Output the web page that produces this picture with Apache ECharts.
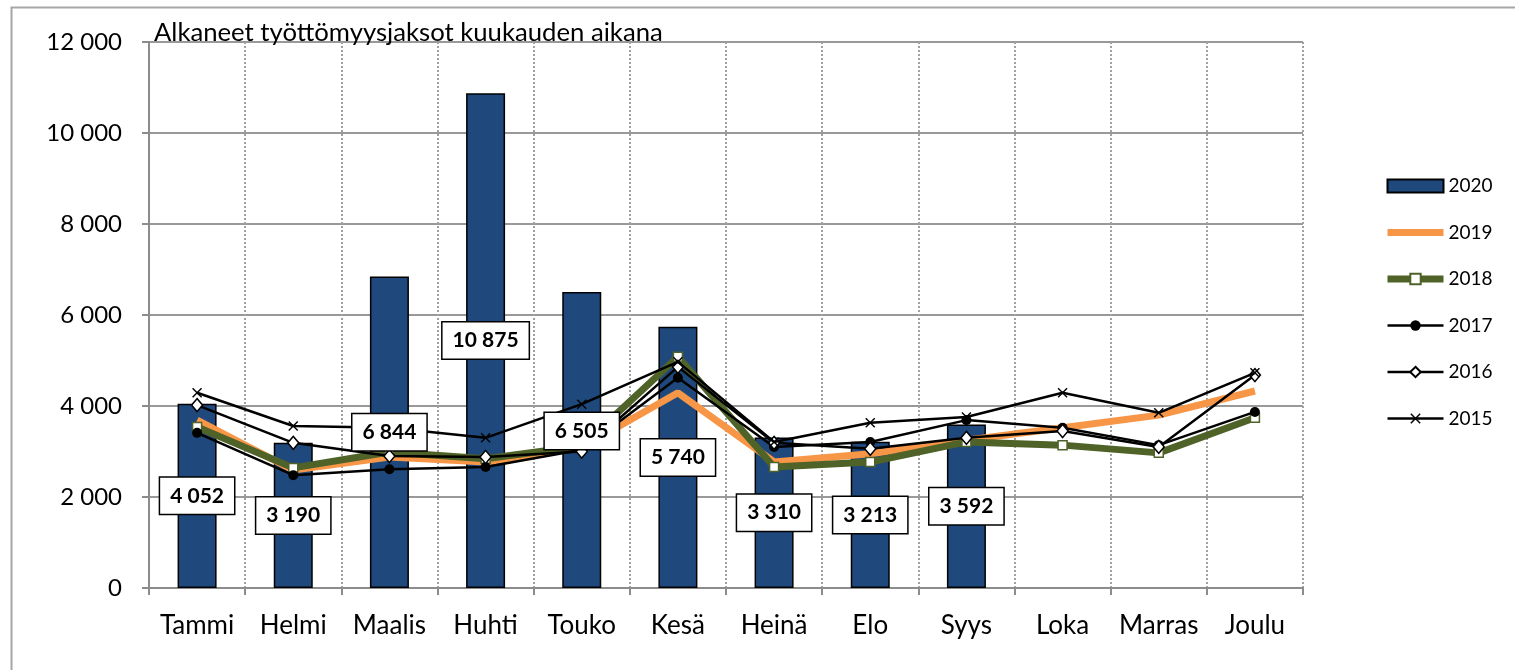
<!DOCTYPE html>
<html>
<head>
<meta charset="utf-8">
<script src="https://cdn.jsdelivr.net/npm/echarts@6/dist/echarts.min.js"></script>
<style>
html,body{margin:0;padding:0;background:#fff;}
#chart{width:1515px;height:670px;}
</style>
</head>
<body>
<div id="chart"></div>
<script>
// ---- data ----
const months = ['Tammi','Helmi','Maalis','Huhti','Touko','Kesä','Heinä','Elo','Syys','Loka','Marras','Joulu'];
const y2020 = [4052, 3190, 6844, 10875, 6505, 5740, 3310, 3213, 3592, null, null, null];
const y2019 = [3690, 2590, 2880, 2770, 3090, 4290, 2770, 2950, 3250, 3520, 3800, 4330];
const y2018 = [3540, 2640, 2990, 2840, 3120, 5080, 2660, 2770, 3210, 3140, 2970, 3740];
const y2017 = [3410, 2480, 2610, 2660, 3040, 4620, 3100, 3210, 3690, 3520, 3140, 3870];
const y2016 = [4020, 3190, 2900, 2880, 3000, 4860, 3190, 3060, 3300, 3450, 3100, 4680];
const y2015 = [4290, 3560, 3520, 3300, 4040, 4970, 3210, 3630, 3760, 4290, 3850, 4730];
const yTicks = [0, 2000, 4000, 6000, 8000, 10000, 12000];
const titleText = 'Alkaneet työttömyysjaksot kuukauden aikana';

// ---- presentation ----
const FONT = 'Lato, "Open Sans", sans-serif';
const fmt = v => String(v).replace(/\B(?=(\d{3})+(?!\d))/g, ' ');
const crossPath = 'path://M0,1 L1,0 L5,4 L9,0 L10,1 L6,5 L10,9 L9,10 L5,6 L1,10 L0,9 L4,5 Z';
const labelShift = {4: [0, -9]};

const labelData = y2020.map((v, i) => labelShift[i] ? {value: v, label: {offset: labelShift[i]}} : v);

const chart = echarts.init(document.getElementById('chart'), null, {renderer: 'canvas'});
chart.setOption({
  animation: false,
  backgroundColor: '#ffffff',
  textStyle: {fontFamily: FONT},
  graphic: [{
    type: 'rect', left: 9, top: 5, silent: true,
    shape: {x: 0, y: 0, width: 2000, height: 900},
    style: {fill: 'none', stroke: '#a6a6a6', lineWidth: 2}
  }],
  title: {
    text: titleText, left: 149, top: 15,
    textStyle: {fontFamily: FONT, fontSize: 25.7, fontWeight: 'normal', color: '#000'}
  },
  grid: {left: 149, right: 212, top: 42, bottom: 82, containLabel: false},
  legend: {
    orient: 'vertical', left: 1379, top: 171,
    itemWidth: 56, itemHeight: 13, itemGap: 26.5,
    textStyle: {fontFamily: FONT, fontSize: 19, color: '#000', lineHeight: 20},
    data: [
      {name: '2020', icon: 'rect'},
      {name: '2019', lineStyle: {width: 7}, itemStyle: {color: 'rgba(0,0,0,0)', borderWidth: 0}},
      {name: '2018', lineStyle: {width: 7}},
      {name: '2017', lineStyle: {width: 2.5}},
      {name: '2016', lineStyle: {width: 2.5}},
      {name: '2015', lineStyle: {width: 2.5}}
    ]
  },
  xAxis: {
    type: 'category', data: months,
    axisLine: {lineStyle: {color: '#8c8c8c', width: 2}},
    axisTick: {show: true, interval: 0, length: 7, lineStyle: {color: '#8c8c8c', width: 2}},
    axisLabel: {interval: 0, fontFamily: FONT, fontSize: 26, color: '#000', margin: 25},
    splitLine: {show: true, interval: 0, lineStyle: {color: '#a0a0a0', width: 2, type: [2, 2]}}
  },
  yAxis: {
    type: 'value', min: yTicks[0], max: yTicks[yTicks.length - 1], interval: yTicks[1] - yTicks[0],
    axisLine: {show: true, lineStyle: {color: '#8c8c8c', width: 2}},
    axisTick: {show: true, length: 7, lineStyle: {color: '#8c8c8c', width: 2}},
    axisLabel: {fontFamily: FONT, fontSize: 24, color: '#000', margin: 27, formatter: v => fmt(v)},
    splitLine: {show: true, lineStyle: {color: '#999999', width: 2}}
  },
  series: [
    {
      name: '2020', type: 'bar', data: y2020, barWidth: 39, z: 2,
      itemStyle: {color: '#1F497D', borderColor: '#000', borderWidth: 1.5}
    },
    {
      name: '2019', type: 'line', data: y2019, symbol: 'none', z: 3,
      lineStyle: {color: '#F79646', width: 7}, itemStyle: {color: '#F79646'}
    },
    {
      name: '2018', type: 'line', data: y2018, symbol: 'rect', symbolSize: 9, z: 4,
      lineStyle: {color: '#4F6228', width: 7},
      itemStyle: {color: '#ffffff', borderColor: '#4F6228', borderWidth: 1.5}
    },
    {
      name: '2017', type: 'line', data: y2017, symbol: 'circle', symbolSize: 10, z: 5,
      lineStyle: {color: '#000', width: 2.5},
      itemStyle: {color: '#000', borderColor: '#000', borderWidth: 0}
    },
    {
      name: '2016', type: 'line', data: y2016, symbol: 'diamond', symbolSize: [11, 13], z: 6,
      lineStyle: {color: '#000', width: 2.5},
      itemStyle: {color: '#ffffff', borderColor: '#000', borderWidth: 1.5}
    },
    {
      name: '2015', type: 'line', data: y2015, symbol: crossPath, symbolSize: 10, z: 7,
      lineStyle: {color: '#000', width: 2.5},
      itemStyle: {color: '#000'}
    },
    {
      name: 'labels2020', type: 'bar', data: labelData, barWidth: 39, barGap: '-100%', z: 10,
      itemStyle: {color: 'rgba(0,0,0,0)', borderWidth: 0},
      silent: true,
      label: {
        show: true, position: 'inside', formatter: p => fmt(p.value),
        fontFamily: FONT, fontSize: 21, fontWeight: 'bold', color: '#000',
        backgroundColor: '#fff', borderColor: '#000', borderWidth: 1.5,
        padding: [8, 10, 7, 10]
      }
    }
  ]
});
</script>
</body>
</html>
